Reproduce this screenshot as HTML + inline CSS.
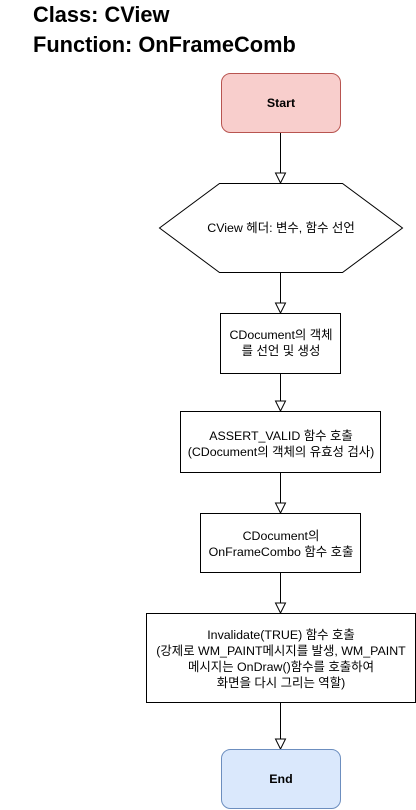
<!DOCTYPE html>
<html><head><meta charset="utf-8"><style>
html,body{margin:0;padding:0;background:#fff;}
svg{display:block;}
text{font-family:"Liberation Sans","Noto Sans CJK KR",sans-serif;font-size:12.4px;fill:#000;}
.t{font-size:21.8px;font-weight:bold;}
.b{font-weight:bold;}
</style></head><body>
<svg width="416" height="810" viewBox="0 0 416 810">
<text class="t" x="33" y="22">Class: CView</text>
<text class="t" x="33" y="52">Function: OnFrameComb</text>
<g stroke="#000" stroke-width="1" fill="none">
<line x1="280.5" y1="132" x2="280.5" y2="173"/>
<line x1="280.5" y1="272" x2="280.5" y2="303"/>
<line x1="280.5" y1="373" x2="280.5" y2="401"/>
<line x1="280.5" y1="473" x2="280.5" y2="503"/>
<line x1="280.5" y1="572" x2="280.5" y2="603"/>
<line x1="280.5" y1="702" x2="280.5" y2="739"/>
</g>
<g stroke="#000" fill="#fff">
<polygon points="275.5,173 285.5,173 280.5,183"/>
<polygon points="275.5,303 285.5,303 280.5,313"/>
<polygon points="275.5,401 285.5,401 280.5,411"/>
<polygon points="275.5,503 285.5,503 280.5,513"/>
<polygon points="275.5,603 285.5,603 280.5,613"/>
<polygon points="275.5,739 285.5,739 280.5,749"/>
</g>
<rect x="221.5" y="73.5" width="119" height="59" rx="9" fill="#f8cecc" stroke="#b85450"/>
<text class="b" x="281" y="107" text-anchor="middle">Start</text>
<polygon points="219.5,183.5 342.5,183.5 402.5,228 342.5,272.5 219.5,272.5 159.5,228" fill="#fff" stroke="#000"/>
<text x="281" y="232" text-anchor="middle">CView 헤더: 변수, 함수 선언</text>
<rect x="220.5" y="313.5" width="120" height="60" fill="#fff" stroke="#000"/>
<text x="281" y="339" text-anchor="middle">CDocument의 객체</text>
<text x="281" y="355" text-anchor="middle">를 선언 및 생성</text>
<rect x="180.5" y="411.5" width="200" height="61" fill="#fff" stroke="#000"/>
<text x="281" y="440" text-anchor="middle">ASSERT_VALID 함수 호출</text>
<text x="281" y="456" text-anchor="middle">(CDocument의 객체의 유효성 검사)</text>
<rect x="200.5" y="513.5" width="160" height="59" fill="#fff" stroke="#000"/>
<text x="281" y="540" text-anchor="middle">CDocument의</text>
<text x="281" y="556" text-anchor="middle">OnFrameCombo 함수 호출</text>
<rect x="146.5" y="613.5" width="269" height="89" fill="#fff" stroke="#000"/>
<text x="281" y="639" text-anchor="middle">Invalidate(TRUE) 함수 호출</text>
<text x="281" y="655" text-anchor="middle">(강제로 WM_PAINT메시지를 발생, WM_PAINT</text>
<text x="281" y="671" text-anchor="middle">메시지는 OnDraw()함수를 호출하여</text>
<text x="281" y="687" text-anchor="middle">화면을 다시 그리는 역할)</text>
<rect x="221.5" y="749.5" width="119" height="59" rx="9" fill="#dae8fc" stroke="#6c8ebf"/>
<text class="b" x="281" y="783" text-anchor="middle">End</text>
</svg>
</body></html>
